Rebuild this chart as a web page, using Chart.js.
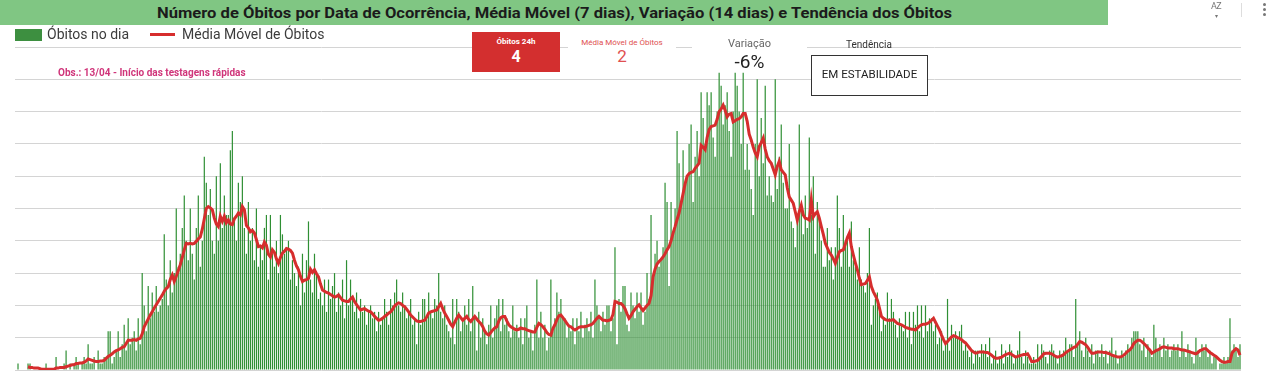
<!DOCTYPE html>
<html><head><meta charset="utf-8">
<script src="https://cdn.jsdelivr.net/npm/chart.js@4"></script>
<style>
html,body{margin:0;padding:0;background:#fff;width:1280px;height:392px;overflow:hidden;font-family:Roboto,"Noto Sans",sans-serif;}
#wrap{position:relative;width:1280px;height:392px;}
canvas{position:absolute;left:0;top:0;}
.abs{position:absolute;white-space:nowrap;}
.ctr{text-align:center;}
.dot{position:absolute;width:3px;height:3px;border-radius:50%;background:#777;left:1263px;}
</style></head>
<body>
<div id="wrap">
<canvas id="c" width="1280" height="392" style="width:1280px;height:392px"></canvas>
<div class="abs" style="left:0;top:0;width:1108px;height:25px;background:#80c683;"></div>
<div class="abs" id="title" style="left:157px;top:4px;font-weight:bold;font-size:15.5px;color:#1b1b1b;transform-origin:0 0;">Número de Óbitos por Data de Ocorrência, Média Móvel (7 dias), Variação (14 dias) e Tendência dos Óbitos</div>
<div class="abs" style="left:1211px;top:1px;font-size:9px;color:#777;letter-spacing:-0.5px;">AZ</div>
<div class="abs" style="left:1215px;top:12px;font-size:6px;color:#777;">▾</div>
<div class="abs" style="left:1241px;top:3px;width:1px;height:14px;background:#ddd;"></div>
<div class="dot" style="top:3px;"></div>
<div class="dot" style="top:8px;"></div>
<div class="dot" style="top:13px;"></div>

<div class="abs" style="left:15px;top:29px;width:27px;height:12px;background:#3d8f40;"></div>
<div class="abs" style="left:47px;top:26px;font-size:14px;color:#3c3c3c;">Óbitos no dia</div>
<div class="abs" style="left:150px;top:33px;width:25px;height:3px;background:#d62d2d;"></div>
<div class="abs" style="left:182px;top:26px;font-size:14px;color:#3c3c3c;">Média Móvel de Óbitos</div>

<div class="abs" style="left:472px;top:32px;width:88px;height:40px;background:#d32f2f;">
  <div class="abs ctr" style="left:0;width:88px;top:5px;font-size:8px;font-weight:bold;color:#fff;">Óbitos 24h</div>
  <div class="abs ctr" style="left:0;width:88px;top:15px;font-size:16px;font-weight:bold;color:#fff;">4</div>
</div>
<div class="abs" style="left:568px;top:32px;width:108px;height:40px;background:#fff;">
  <div class="abs ctr" style="left:0;width:108px;top:6px;font-size:8px;color:#e05050;">Média Móvel de Óbitos</div>
  <div class="abs ctr" style="left:0;width:108px;top:14px;font-size:17px;color:#e05050;">2</div>
</div>
<div class="abs" style="left:692px;top:32px;width:115px;height:39px;background:#fff;">
  <div class="abs ctr" style="left:0;width:115px;top:5px;font-size:11px;color:#666;">Variação</div>
  <div class="abs ctr" style="left:0;width:115px;top:18px;font-size:19px;color:#222;">-6%</div>
</div>
<div class="abs ctr" style="left:819px;width:100px;top:39px;font-size:10px;color:#333;">Tendência</div>
<div class="abs" style="left:811px;top:55px;width:115px;height:39px;border:1px solid #333;background:#fff;">
  <div class="abs ctr" style="left:0;width:115px;top:11px;font-size:11.5px;color:#222;">EM ESTABILIDADE</div>
</div>
<div class="abs" style="left:58px;top:67px;font-size:10px;font-weight:bold;color:#d0357a;">Obs.: 13/04 - Início das testagens rápidas</div>
</div>
<script>
const startDate = '2020-03-16';
const deaths = [
0,1,0,0,0,0,1,1,0,0,
0,0,0,0,0,1,0,0,0,0,
2,0,0,0,1,3,0,1,0,1,
2,1,0,1,2,1,4,1,1,2,
0,3,1,1,2,2,6,6,1,2,
3,6,2,4,7,3,8,4,5,6,
3,8,4,15,10,6,13,8,12,9,
13,9,10,11,21,14,10,17,12,15,
25,16,18,22,27,20,17,25,18,14,
22,27,16,20,33,29,24,28,20,18,
30,20,32,22,27,24,24,34,37,23,
20,29,26,30,22,18,26,20,22,17,
25,16,19,17,22,24,14,24,18,16,
20,15,24,21,18,19,20,14,17,15,
13,16,10,18,12,17,23,14,12,18,
15,11,12,10,14,9,14,11,13,15,
9,12,10,14,8,17,10,14,11,9,
12,8,11,9,10,7,9,10,8,9,
6,9,7,8,11,9,7,11,10,12,
14,10,9,12,10,8,9,11,7,8,
4,9,7,11,11,8,12,9,8,11,
10,15,9,8,10,7,6,5,11,4,
11,9,6,8,10,7,11,6,13,8,
3,9,5,8,6,4,7,10,5,8,
10,11,6,11,7,8,6,5,10,6,
7,5,8,4,8,10,5,6,3,7,
14,5,9,5,7,3,5,14,6,8,
12,9,11,8,8,5,7,6,8,4,
8,6,9,5,7,8,6,9,5,14,
10,8,6,9,7,10,10,6,8,19,
4,11,9,13,13,7,6,12,10,8,
12,9,12,7,9,15,11,24,14,18,
20,16,17,19,29,26,13,26,21,25,
37,32,26,34,29,30,35,38,26,33,
37,30,43,39,35,43,41,43,36,33,
40,46,44,38,41,43,37,33,40,46,
44,40,35,46,31,35,31,28,24,35,
45,30,39,32,44,27,30,27,26,45,
28,33,38,29,25,25,35,23,22,19,
24,38,25,21,27,22,36,24,30,18,
26,24,20,16,16,22,17,19,14,19,
27,22,16,24,20,20,16,23,17,16,
14,19,14,13,12,15,22,7,10,11,
12,9,6,8,7,12,8,11,9,7,
5,8,7,6,9,5,9,4,9,7,
10,6,10,5,10,6,8,8,6,7,
4,5,6,3,4,11,3,7,5,6,
5,6,7,3,4,3,2,3,1,3,
3,2,4,3,4,2,5,1,2,3,
1,2,4,1,3,2,4,3,1,2,
3,6,2,1,3,2,1,1,2,1,
4,2,4,3,2,1,3,4,3,2,
1,3,2,3,5,3,4,4,2,11,
4,6,3,2,5,3,2,4,1,3,
3,2,4,2,3,1,3,5,2,3,
1,2,3,2,3,4,3,5,6,6,
6,4,3,5,2,4,3,2,7,5,
3,4,2,5,3,4,2,3,4,3,
4,2,6,3,2,4,3,2,1,5,
3,2,4,3,4,2,3,1,2,2,
0,1,1,2,1,2,8,3,4,3,
2,4
];
const movingAvg = [
null,null,null,null,null,null,0.5,0.4,0.4,0.3,
0.3,0.3,0.2,0.1,0.1,0.1,0.1,0.1,0.1,0.1,
0.3,0.3,0.4,0.4,0.4,0.5,0.6,0.7,0.8,0.8,
1.0,1.0,1.1,1.1,1.2,1.4,1.7,1.6,1.5,1.4,
1.3,1.3,1.4,1.4,1.5,1.8,2.1,2.3,2.5,2.8,
3.0,3.1,3.3,3.5,3.6,4.1,4.6,4.6,4.6,4.7,
4.6,4.8,4.9,5.6,6.7,7.3,7.9,8.5,9.0,9.6,
10.1,10.6,11.1,11.6,12.2,12.6,12.9,14.0,14.7,13.7,
14.5,15.4,16.3,17.4,18.6,19.6,19.5,19.6,19.5,19.6,
19.9,20.3,20.6,21.8,23.4,25.0,25.3,25.1,24.8,23.5,
22.6,22.2,23.8,23.0,23.8,22.8,23.2,22.6,22.5,23.4,
23.8,24.3,24.0,25.3,24.8,22.4,22.0,21.4,21.6,21.2,
20.2,19.1,19.2,18.9,19.8,19.3,17.9,17.5,18.6,18.2,
17.2,16.5,17.4,18.1,18.4,18.8,18.7,18.5,18.1,17.0,
16.1,15.5,14.5,13.7,13.9,14.0,14.2,15.6,15.1,15.5,
14.9,14.4,13.3,12.4,12.2,12.0,11.9,11.7,11.5,11.3,
11.4,11.6,11.2,10.8,10.7,10.6,10.6,11.0,11.3,10.6,
10.1,9.7,9.3,9.4,9.5,9.3,9.1,9.0,8.7,8.3,
8.0,7.7,7.8,8.0,8.3,8.5,8.8,9.0,9.4,9.9,
10.2,10.4,10.3,10.0,9.8,9.4,9.0,8.5,8.2,7.9,
7.6,7.5,7.5,7.6,7.7,8.2,8.8,9.0,9.1,9.2,
9.3,9.8,10.3,9.5,8.8,8.3,7.7,7.1,6.7,7.4,
8.0,8.5,8.1,7.7,8.0,8.3,7.8,7.5,7.9,8.3,
7.9,7.5,7.2,6.7,6.0,5.6,5.4,5.8,6.2,6.5,
6.7,7.6,8.1,8.3,8.3,7.6,7.0,6.7,6.5,6.3,
6.2,6.3,6.5,6.4,6.4,6.2,6.1,6.0,5.9,5.9,
6.6,7.2,7.0,6.7,6.3,5.8,5.5,5.4,6.4,7.0,
7.8,8.4,8.5,8.1,7.7,7.2,6.8,6.7,6.4,6.2,
6.4,6.6,6.7,6.7,6.7,6.8,6.9,7.0,7.2,7.6,
8.0,8.3,8.0,7.7,7.7,7.6,7.7,7.8,8.6,10.6,
10.5,10.3,10.3,10.0,9.5,8.7,8.0,8.4,9.0,9.4,
9.8,10.1,9.6,9.2,9.6,10.0,10.3,11.5,14.4,15.6,
16.4,16.8,17.1,17.5,18.0,18.6,19.1,20.0,21.2,22.2,
23.3,24.3,25.8,27.3,28.8,30.0,30.4,30.6,30.7,31.2,
31.6,32.0,34.8,34.5,34.1,36.0,37.2,37.7,37.8,37.9,
38.8,40.0,40.4,41.0,40.2,39.2,39.6,39.7,38.4,38.6,
38.8,38.9,39.2,39.7,39.7,38.5,36.5,35.6,34.5,33.6,
33.0,34.6,35.2,35.9,34.2,33.0,32.4,32.0,31.1,30.2,
31.5,32.3,31.0,30.6,30.2,28.2,26.8,26.3,25.8,24.5,
23.2,24.5,25.5,24.0,23.5,23.4,23.2,26.3,23.7,24.2,
24.5,23.5,22.2,21.0,19.6,18.9,18.2,17.8,17.2,16.5,
17.4,18.3,18.5,18.6,19.5,20.5,21.2,19.1,17.8,16.6,
15.5,14.2,13.2,13.3,13.4,13.9,14.4,12.9,12.1,11.5,
10.8,9.6,8.3,8.0,7.8,7.7,7.7,7.7,7.8,7.5,
7.2,7.1,7.0,6.8,6.6,6.5,6.4,6.3,6.3,6.2,
6.5,6.8,7.0,7.1,7.1,7.2,7.4,7.7,8.0,7.4,
6.8,6.2,5.4,4.7,4.1,4.4,4.8,5.1,5.3,5.2,
5.0,4.9,4.7,4.4,4.2,3.8,3.4,3.0,2.8,2.6,
2.7,2.8,2.8,2.8,2.7,2.7,2.5,2.3,2.0,1.8,
1.8,1.9,2.0,2.2,2.4,2.5,2.6,2.4,2.2,2.0,
2.1,2.2,2.3,2.4,2.4,2.5,2.0,1.3,1.3,1.4,
1.5,1.8,2.1,2.5,2.6,2.6,2.6,2.5,2.3,2.1,
2.0,2.1,2.2,2.4,2.7,2.9,3.1,3.3,3.5,3.6,
4.0,4.4,4.3,4.1,3.9,3.5,3.0,2.6,2.6,2.7,
2.8,2.8,2.8,2.7,2.7,2.6,2.5,2.3,2.2,2.1,
2.0,2.0,2.1,2.3,2.6,2.9,3.1,3.5,4.1,4.4,
4.6,4.6,4.4,4.1,3.8,3.4,3.1,2.6,2.8,3.0,
3.1,3.3,3.5,3.6,3.5,3.4,3.4,3.4,3.3,3.3,
3.3,3.2,3.1,3.1,3.0,2.9,2.8,2.7,2.6,2.5,
2.7,3.0,3.1,3.3,3.3,3.0,2.7,2.5,2.3,2.1,
1.8,1.5,1.3,1.2,1.2,1.3,1.3,2.6,3.0,3.3,
3.1,2.3
];
const yTicks = [0,5,10,15,20,25,30,35,40,45,50];

const labels = deaths.map((_, i) => {
  const d = new Date(startDate + 'T00:00:00');
  d.setDate(d.getDate() + i);
  return String(d.getDate()).padStart(2,'0') + '/' + String(d.getMonth()+1).padStart(2,'0') + '/' + d.getFullYear();
});

const t = document.getElementById('title');
const w = t.getBoundingClientRect().width;
t.style.transform = 'scaleX(' + (795 / w) + ')';

new Chart(document.getElementById('c'), {
  data: {
    labels: labels,
    datasets: [
      {type:'line', label:'Média Móvel de Óbitos', data: movingAvg, borderColor:'#d62d2d', borderWidth:3, pointRadius:0, tension:0, order:0},
      {type:'bar', label:'Óbitos no dia', data: deaths, backgroundColor:'#2f8f34', barPercentage:0.6, categoryPercentage:1, order:1}
    ]
  },
  options: {
    responsive:false, animation:false,
    layout:{padding:{left:15,right:39,top:47,bottom:22}},
    plugins:{legend:{display:false}, tooltip:{enabled:false}},
    scales:{
      x:{display:false, offset:true},
      y:{min:yTicks[0], max:yTicks[yTicks.length-1],
         afterBuildTicks(s){ s.ticks = yTicks.map(v => ({value:v})); },
         afterFit(s){ s.width = 0; },
         ticks:{display:false}, border:{display:false},
         grid:{color:'#d4d4d4', drawTicks:false, lineWidth:1}}
    }
  }
});
</script>
</body></html>
